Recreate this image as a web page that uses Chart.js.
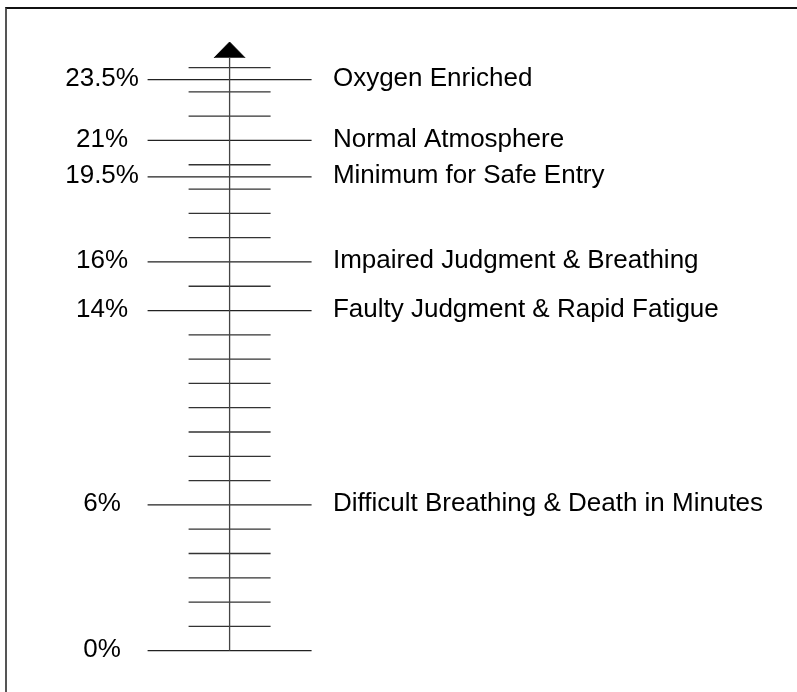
<!DOCTYPE html>
<html>
<head>
<meta charset="utf-8">
<script src="https://cdn.jsdelivr.net/npm/chart.js@4.4.1/dist/chart.umd.min.js"></script>
<style>
  html, body { margin: 0; padding: 0; background: #fff; overflow: hidden; }
  #wrap { position: relative; width: 797px; height: 692px; }
  #frame {
    position: absolute; left: 5px; top: 7px; width: 1000px; height: 1000px;
    border-top: 2px solid #111; border-left: 2px solid #555;
  }
  #chart { position: absolute; left: 0; top: 0; }
</style>
</head>
<body>
<div id="wrap">
  <div id="frame"></div>
  <canvas id="chart" width="797" height="692"></canvas>
</div>
<script>
// oxygen levels (%) that get a long tick and labels
const levels = [23.5, 21, 19.5, 16, 14, 6, 0];
const levelLabels = ['23.5%', '21%', '19.5%', '16%', '14%', '6%', '0%'];
const descriptions = [
  'Oxygen Enriched',
  'Normal Atmosphere',
  'Minimum for Safe Entry',
  'Impaired Judgment & Breathing',
  'Faulty Judgment & Rapid Fatigue',
  'Difficult Breathing & Death in Minutes',
  ''
];
// short ticks, every 1%
const minorTicks = [1, 2, 3, 4, 5, 7, 8, 9, 10, 11, 12, 13, 15, 17, 18, 19, 20, 22, 23, 24];

const axisTop = 24.4;   // where the arrow head sits
const arrowTip = 25.05;

function tickSegments(values, half) {
  const pts = [];
  values.forEach(v => {
    pts.push({ x: -half, y: v }, { x: half, y: v }, { x: 0, y: null });
  });
  return pts;
}

const FONT = '26px "Liberation Sans", Arial, sans-serif';

const labelPlugin = {
  id: 'levelLabels',
  afterDatasetsDraw(chart) {
    const { ctx, scales: { x, y } } = chart;
    ctx.save();
    ctx.font = FONT;
    ctx.fillStyle = '#000';
    ctx.textBaseline = 'middle';
    levels.forEach((v, i) => {
      const py = y.getPixelForValue(v) - 1;
      ctx.textAlign = 'center';
      ctx.fillText(levelLabels[i], x.getPixelForValue(-3.11), py);
      if (descriptions[i]) {
        ctx.textAlign = 'left';
        ctx.fillText(descriptions[i], x.getPixelForValue(2.52), py);
      }
    });
    ctx.restore();
  }
};

new Chart(document.getElementById('chart').getContext('2d'), {
  type: 'line',
  data: {
    datasets: [
      {
        label: 'axis',
        data: [{ x: 0, y: 0 }, { x: 0, y: axisTop }],
        borderColor: '#444',
        borderWidth: 1.3,
        pointRadius: 0
      },
      {
        label: 'minor',
        data: tickSegments(minorTicks, 1),
        borderColor: '#333',
        borderWidth: 1.3,
        pointRadius: 0,
        spanGaps: false
      },
      {
        label: 'major',
        data: tickSegments(levels, 2),
        borderColor: '#222',
        borderWidth: 1.3,
        pointRadius: 0,
        spanGaps: false
      },
      {
        label: 'arrow',
        data: [{ x: -0.378, y: axisTop }, { x: 0, y: arrowTip }, { x: 0.378, y: axisTop }],
        borderColor: '#000',
        backgroundColor: '#000',
        borderWidth: 1,
        pointRadius: 0,
        fill: { value: axisTop }
      }
    ]
  },
  options: {
    responsive: false,
    animation: false,
    events: [],
    layout: { padding: 0 },
    plugins: {
      legend: { display: false },
      tooltip: { enabled: false }
    },
    scales: {
      x: { type: 'linear', min: -5.6, max: 13.84, display: false },
      y: { type: 'linear', min: -1.7, max: 26.78, display: false }
    }
  },
  plugins: [labelPlugin]
});
</script>
</body>
</html>
